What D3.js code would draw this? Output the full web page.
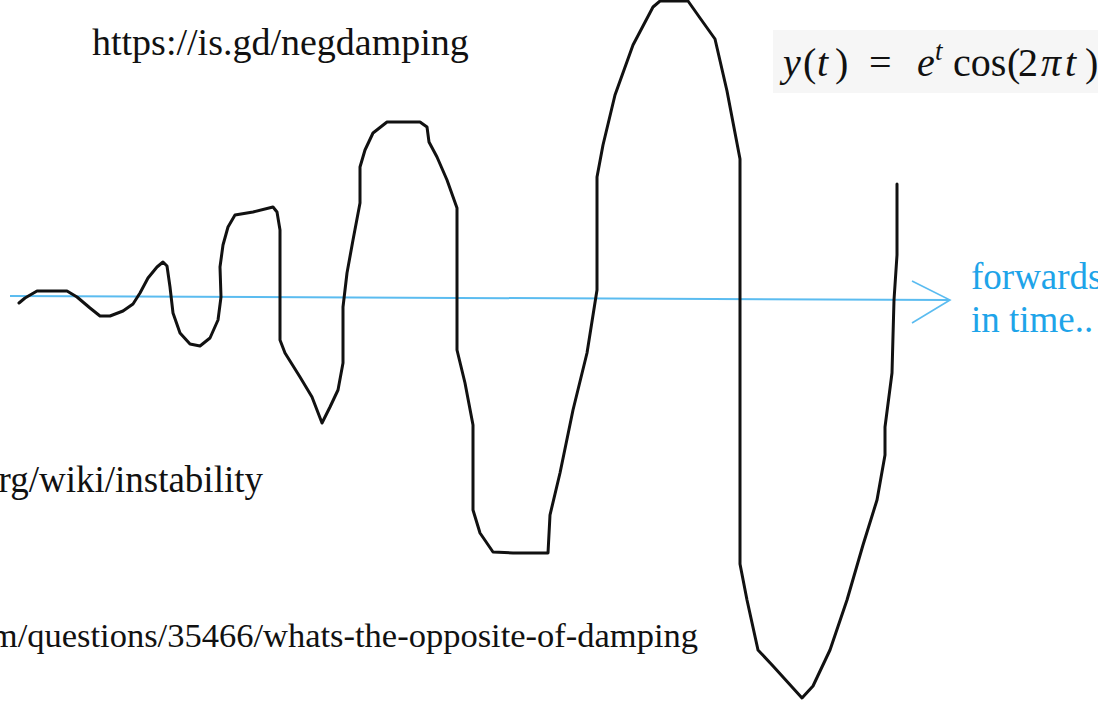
<!DOCTYPE html>
<meta charset="utf-8">
<html>
<style>
  body { margin: 0; background: #fff; }
  svg { display: block; }
</style>
<script src="https://d3js.org/d3.v7.min.js"></script>
<div id="sketch"></div>
<script>

// page size
var width = 1098,
    height = 712;

// the hand drawn wave, t = time, y = amplitude (0 = the time axis)
var waveT = [0.19, 0.25, 0.37, 0.67, 0.77, 0.90, 1.00, 1.10, 1.23, 1.33, 1.40, 1.48, 1.57, 1.63, 1.67, 1.70, 1.73, 1.80, 1.90, 2.00,
             2.10, 2.18, 2.21, 2.20, 2.23, 2.28, 2.35, 2.53, 2.73, 2.77, 2.80, 2.80, 2.85, 3.00, 3.12, 3.22, 3.30, 3.38, 3.43, 3.43,
             3.47, 3.53, 3.60, 3.60, 3.65, 3.73, 3.87, 4.20, 4.27, 4.29, 4.37, 4.47, 4.57, 4.57, 4.65, 4.73, 4.73, 4.80, 4.93, 5.13,
             5.48, 5.50, 5.60, 5.73, 5.87, 5.97, 5.97, 6.03, 6.15, 6.33, 6.53, 6.60, 6.88, 7.00, 7.15, 7.27, 7.40, 7.40, 7.40, 7.47,
             7.58, 7.73, 8.02, 8.13, 8.30, 8.47, 8.63, 8.77, 8.85, 8.85, 8.92, 8.93, 8.94, 8.97, 8.97];
var waveY = [-0.05, 0.00, 0.07, 0.07, 0.01, -0.10, -0.18, -0.18, -0.13, -0.06, 0.05, 0.20, 0.31, 0.36, 0.32, 0.11, -0.15, -0.35, -0.46, -0.48,
             -0.40, -0.22, 0.01, 0.31, 0.53, 0.71, 0.83, 0.86, 0.91, 0.86, 0.68, -0.42, -0.55, -0.79, -0.99, -1.25, -1.09, -0.92, -0.65, -0.09,
             0.25, 0.58, 0.95, 1.31, 1.48, 1.65, 1.76, 1.76, 1.71, 1.56, 1.41, 1.18, 0.90, -0.52, -0.85, -1.27, -2.12, -2.35, -2.54, -2.55,
             -2.55, -2.17, -1.75, -1.12, -0.55, 0.08, 1.21, 1.53, 2.03, 2.53, 2.91, 2.97, 2.97, 2.80, 2.59, 2.07, 1.39, -1.57, -2.66, -3.02,
             -3.52, -3.68, -4.00, -3.88, -3.52, -3.02, -2.47, -2.02, -1.57, -1.29, -0.75, -0.38, -0.02, 0.43, 1.14];

// the blue time axis with its open arrow head
var axisT = [0.10, 9.50];
var axisY = [0.02, -0.02];
var arrowT = [9.12, 9.50, 9.12];
var arrowY = [0.17, -0.02, -0.25];

// texts (only what is visible of the cut-off links)
var links = [
  {text: "https://is.gd/negdamping", t: 0.92, y: 2.43, anchor: "start", size: 38},
  {text: "rg/wiki/instability", t: 2.63, y: -1.94, anchor: "end", size: 37},
  {text: "m/questions/35466/whats-the-opposite-of-damping", t: 6.98, y: -3.49, anchor: "end", size: 34.5}
];
var arrowLabel = ["forwards", "in time.."];

// formula pieces: text, italic?, left edge in px, superscript?
var formulaParts = [
  ["y", true, 783], ["(", false, 803], ["t", true, 817], [")", false, 835],
  ["=", false, 869], ["e", true, 917], ["t", true, 935, true],
  ["cos", false, 953], ["(", false, 1007], ["2", false, 1018],
  ["π", true, 1041], ["t", true, 1065], [")", false, 1085]
];

var x = d3.scaleLinear().domain([0, 10.98]).range([0, width]);
var y = d3.scaleLinear().domain([-4.14, 2.98]).range([height, 0]);

var svg = d3.select("#sketch")
  .append("svg")
    .attr("width", width)
    .attr("height", height);

var line = d3.line()
  .x(function(d) { return x(d[0]); })
  .y(function(d) { return y(d[1]); });

// time axis
svg.append("path")
  .attr("d", line(d3.zip(axisT, axisY)))
  .attr("fill", "none")
  .attr("stroke", "#5bbcf0")
  .attr("stroke-width", 2);

svg.append("path")
  .attr("d", line(d3.zip(arrowT, arrowY)))
  .attr("fill", "none")
  .attr("stroke", "#5bbcf0")
  .attr("stroke-width", 1.6);

// the wave itself
svg.append("path")
  .attr("d", line(d3.zip(waveT, waveY)))
  .attr("fill", "none")
  .attr("stroke", "#111")
  .attr("stroke-width", 3)
  .attr("stroke-linejoin", "round")
  .attr("stroke-linecap", "round");

// link notes
svg.selectAll("text.note")
  .data(links)
  .enter().append("text")
    .attr("class", "note")
    .attr("x", function(d) { return x(d.t); })
    .attr("y", function(d) { return y(d.y); })
    .attr("text-anchor", function(d) { return d.anchor; })
    .attr("font-family", "Liberation Serif")
    .attr("font-size", function(d) { return d.size; })
    .attr("fill", "#111")
    .text(function(d) { return d.text; });

// label next to the arrow
svg.selectAll("text.arrowlabel")
  .data(arrowLabel)
  .enter().append("text")
    .attr("class", "arrowlabel")
    .attr("x", x(9.71))
    .attr("y", function(d, i) { return y(0.09) + i * 43; })
    .attr("font-family", "Liberation Serif")
    .attr("font-size", 37)
    .attr("fill", "#1ea4e9")
    .text(function(d) { return d; });

// formula box
svg.append("rect")
  .attr("x", 773)
  .attr("y", 30)
  .attr("width", 340)
  .attr("height", 63)
  .attr("fill", "#f6f6f6");

svg.append("text")
    .attr("font-family", "Liberation Serif")
    .attr("font-size", 40)
    .attr("fill", "#111")
  .selectAll("tspan")
  .data(formulaParts)
  .enter().append("tspan")
    .attr("x", function(d) { return d[2]; })
    .attr("y", function(d) { return d[3] ? 60 : 76; })
    .attr("font-style", function(d) { return d[1] ? "italic" : "normal"; })
    .attr("font-size", function(d) { return d[3] ? 27 : 40; })
    .text(function(d) { return d[0]; });
</script>
</html>
